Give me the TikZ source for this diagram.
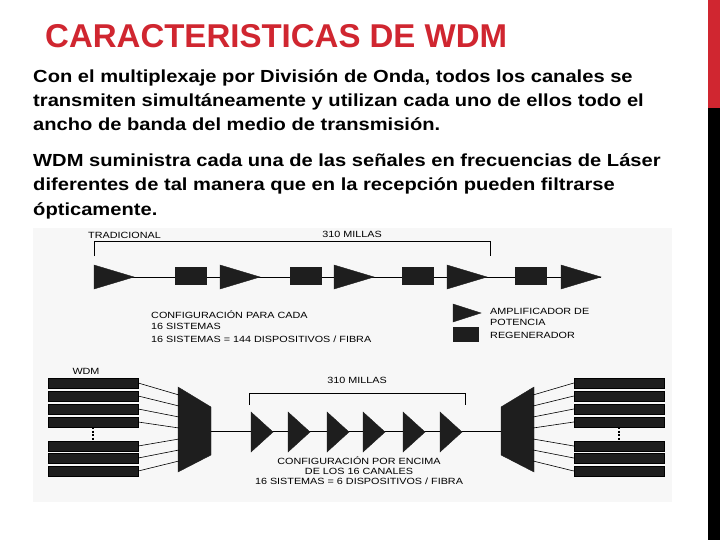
\documentclass[tikz,border=0pt]{standalone}
\usepackage{fontspec}
\setmainfont{Liberation Sans}
\usetikzlibrary{calc}
\definecolor{ttl}{RGB}{208,38,48}
\definecolor{dk}{RGB}{30,30,30}
\tikzset{
 body/.style={anchor=base west,inner sep=0,font=\bfseries\fontsize{17.5}{20}\selectfont,xscale=1.15},
 lab/.style={inner sep=0,font=\fontsize{9}{9}\selectfont,xscale=1.2},
 tri/.style={fill=dk,draw=dk},
 sq/.style={fill=dk,draw=dk,minimum width=31pt,minimum height=17pt,inner sep=0},
 chan/.style={fill=dk,draw=black,minimum width=90pt,minimum height=10pt,inner sep=0},
 wire/.style={draw=black,line width=0.8pt},
 brk/.style={draw=black,line width=0.8pt}
}
\begin{document}
\begin{tikzpicture}[x=1pt,y=-1pt]
\useasboundingbox (0,0) rectangle (720,540);
\fill[white] (0,0) rectangle (720,540);
\fill[ttl] (708,0) rectangle (720,108);
\fill[black] (708,108) rectangle (720,540);
\node[anchor=base west,inner sep=0,text=ttl,font=\bfseries\fontsize{33}{36}\selectfont] (title) at (45,48) {CARACTERISTICAS DE WDM};
\node[body] (p1) at (33,83) {Con el multiplexaje por División de Onda, todos los canales se};
\node[body] (p2) at (33,107) {transmiten simultáneamente y utilizan cada uno de ellos todo el};
\node[body] (p3) at (33,131) {ancho de banda del medio de transmisión.};
\node[body] (p4) at (33,167) {WDM suministra cada una de las señales en frecuencias de Láser};
\node[body] (p5) at (33,191) {diferentes de tal manera que en la recepción pueden filtrarse};
\node[body] (p6) at (33,215) {ópticamente.};
% picture background
\fill[black!3] (33,228) rectangle (672,502);
% ---- traditional
\draw[brk] (94,256) -- (94,241) -- (490,241) -- (490,256);
\node[lab,anchor=west] (trad) at (88,235) {TRADICIONAL};
\node[lab] (m1) at (352,234) {310 MILLAS};
\coordinate (c0) at (94,277);
\coordinate (c1) at (601,277);
\draw[wire] (c0) -- (c1);
\foreach \x in {94,220,334,447,561} \filldraw[tri] (\x,265) -- (\x+40,277) -- (\x,289) -- cycle;
\foreach \x/\n in {191/s1,306/s2,418/s3,531/s4} \node[sq] (\n) at (\x,276) {};
\node[lab,anchor=west] (cf1) at (151,315) {CONFIGURACIÓN PARA CADA};
\node[lab,anchor=west] (cf2) at (151,326) {16 SISTEMAS};
\node[lab,anchor=west] (cf3) at (151,339) {16 SISTEMAS = 144 DISPOSITIVOS / FIBRA};
\filldraw[tri] (453,304) -- (481,313) -- (453,322) -- cycle;
\node[sq,minimum width=25pt,minimum height=14pt] (lsq) at (466,334) {};
\node[lab,anchor=west] (la1) at (490,311) {AMPLIFICADOR DE};
\node[lab,anchor=west] (la2) at (490,322) {POTENCIA};
\node[lab,anchor=west] (la3) at (490,335) {REGENERADOR};
% ---- WDM
\node[lab] (wdm) at (86,371) {WDM};
\filldraw[tri] (178,387) -- (211,407) -- (211,455) -- (178,472) -- cycle;
\filldraw[tri] (534,387) -- (501,407) -- (501,455) -- (534,472) -- cycle;
\coordinate (fa) at (211,431);
\coordinate (fb) at (501,431);
\draw[wire] (fa) -- (fb);
\foreach \x in {251,288,327,363,403,440} \filldraw[tri] (\x,412) -- (\x+22,432) -- (\x,452) -- cycle;
\draw[brk] (249,405) -- (249,393) -- (465,393) -- (465,405);
\node[lab] (m2) at (357,380) {310 MILLAS};
\foreach \y/\i [count=\k] in {383/1,396/2,409/3,422/4,446/5,458/6,471/7}{
  \node[chan] (L\i) at (93,\y) {};
  \node[chan] (R\i) at (619,\y) {};
  \coordinate (ml\i) at (179,{395+(\k-1)*11});
  \coordinate (mr\i) at (533,{395+(\k-1)*11});
  \draw[wire,line width=0.6pt] (L\i.east) -- (ml\i);
  \draw[wire,line width=0.6pt] (R\i.west) -- (mr\i);
}
\draw[line width=2pt,dash pattern=on 2pt off 1.5pt] (L4.south) -- (L5.north);
\draw[line width=2pt,dash pattern=on 2pt off 1.5pt] (R4.south) -- (R5.north);
\node[lab] (w1) at (359,461) {CONFIGURACIÓN POR ENCIMA};
\node[lab] (w2) at (359,471) {DE LOS 16 CANALES};
\node[lab] (w3) at (359,481) {16 SISTEMAS = 6 DISPOSITIVOS / FIBRA};
\end{tikzpicture}
\end{document}
